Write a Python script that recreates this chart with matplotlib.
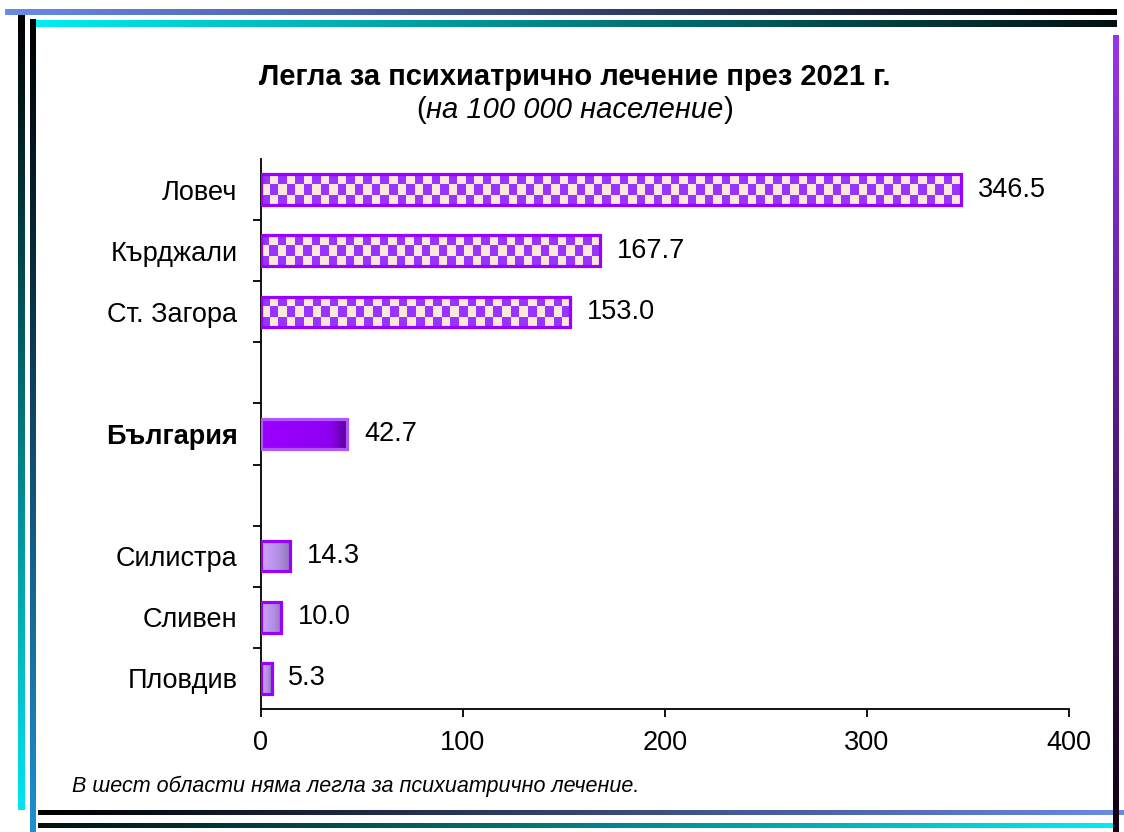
import numpy as np
import matplotlib
matplotlib.use('Agg')
import matplotlib.pyplot as plt
from matplotlib.colors import ListedColormap, LinearSegmentedColormap, to_rgb

plt.rcParams['font.family'] = ['Liberation Sans', 'DejaVu Sans']

# data (blank slots separate the groups)
regions = ['Ловеч', 'Кърджали', 'Ст. Загора', '', 'България', '', 'Силистра', 'Сливен', 'Пловдив']
values = [346.5, 167.7, 153.0, None, 42.7, None, 14.3, 10.0, 5.3]
kinds = ['top', 'top', 'top', None, 'bg', None, 'low', 'low', 'low']
xticks = [0, 100, 200, 300, 400]
title = 'Легла за психиатрично лечение през 2021 г.'
subtitle = 'на 100 000 население'
note = 'В шест области няма легла за психиатрично лечение.'

W, H = 1124, 832
FS = 19.5
fig = plt.figure(figsize=(W / 100, H / 100), dpi=100)

# decorative frame (gradient strips), pixel coordinates
deco = fig.add_axes([0, 0, 1, 1])
deco.axis('off')


def strip(x0, x1, y0, y1, c0, c1, horizontal=True):
    t = np.linspace(0, 1, 256)[:, None]
    g = np.array(to_rgb(c0)) * (1 - t) + np.array(to_rgb(c1)) * t
    img = g[None, :, :] if horizontal else g[:, None, :]
    deco.imshow(img, extent=(x0, x1, y1, y0), aspect='auto', interpolation='bilinear')


strip(5, 1117, 9, 15, '#6a8ae8', '#000000')
strip(33, 1117, 20, 27, '#00eef2', '#041010')
strip(18, 25, 15, 810, '#000000', '#00e5f0', horizontal=False)
strip(30, 36, 19, 832, '#000000', '#1e90d0', horizontal=False)
strip(38, 1124, 810, 815, '#000000', '#6a8ae8')
strip(38, 1117, 823, 828, '#041010', '#00eef2')
strip(1113, 1119, 35, 832, '#9933ee', '#100010', horizontal=False)
deco.set_xlim(0, W); deco.set_ylim(H, 0)

ax = fig.add_axes([261 / W, 1 - 709 / H, (1069 - 261) / W, (709 - 159) / H])
ax.set_facecolor('none')

h = 0.5
checker = ListedColormap(['#9933ff', '#fde9d9'])
grad_bg = LinearSegmentedColormap.from_list('bg', [(0, '#9a00ff'), (0.8, '#8e00f2'), (1, '#5a0099')])
grad_low = LinearSegmentedColormap.from_list('low', [(0, '#cfa3ff'), (0.6, '#b48fe6'), (1, '#9278b4')])

for i, (v, k) in enumerate(zip(values, kinds)):
    if v is None:
        continue
    ext = (0, v, i + h / 2, i - h / 2)
    if k == 'top':
        ncol = max(1, int(round(v / 4.2)))
        pat = np.add.outer(np.arange(3), np.arange(ncol)) % 2
        ax.imshow(pat, cmap=checker, extent=ext, aspect='auto', interpolation='nearest', zorder=2)
        ec = '#9900ff'
    elif k == 'bg':
        ax.imshow(np.linspace(0, 1, 100)[None, :], cmap=grad_bg, extent=ext, aspect='auto', zorder=2)
        ec = '#b055ff'
    else:
        ax.imshow(np.linspace(0, 1, 100)[None, :], cmap=grad_low, extent=ext, aspect='auto', zorder=2)
        ec = '#9900ff'
    ax.barh(i, v, height=h, facecolor='none', edgecolor=ec, linewidth=2.3, zorder=3)
    ax.annotate(f'{v:.1f}', (v, i), xytext=(12, 0), textcoords='offset points',
                va='center', ha='left', fontsize=FS)

ax.set_xlim(0, 400)
ax.set_ylim(len(regions) - 0.5, -0.5)
ax.set_xticks(xticks)
ax.set_yticks(range(len(regions)))
ax.set_yticklabels(regions)
ax.set_yticks(np.arange(0.5, len(regions) - 1), minor=True)
ax.tick_params(axis='y', which='major', length=0, pad=17, labelsize=FS)
ax.tick_params(axis='y', which='minor', length=6, width=1.3, direction='out')
ax.tick_params(axis='x', length=6, width=1.3, direction='out', labelsize=FS, pad=9)
for lab in ax.get_yticklabels():
    if lab.get_text() == 'България':
        lab.set_fontweight('bold')
for s in ['top', 'right']:
    ax.spines[s].set_visible(False)
for s in ['left', 'bottom']:
    ax.spines[s].set_linewidth(1.3)

fig.text(575 / W, 1 - 77 / H, title, ha='center', va='center', fontsize=21, fontweight='bold')
sub = fig.text(575 / W, 1 - 110 / H, subtitle, ha='center', va='center', fontsize=21, style='italic')
fig.canvas.draw()
bb = sub.get_window_extent()
fig.text(bb.x0 / W, 1 - 110 / H, '(', ha='right', va='center', fontsize=21)
fig.text(bb.x1 / W, 1 - 110 / H, ')', ha='left', va='center', fontsize=21)
fig.text(72 / W, 1 - 786 / H, note, ha='left', va='center', fontsize=15.5, style='italic')

fig.savefig('out.png', dpi=100)
